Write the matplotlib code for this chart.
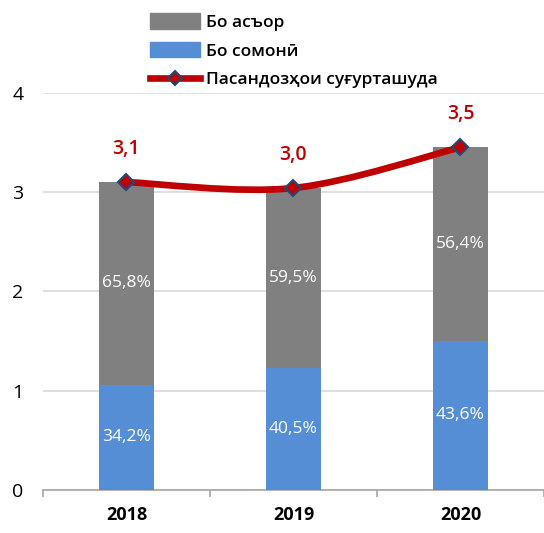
import matplotlib.pyplot as plt
from matplotlib.path import Path
from matplotlib.patches import PathPatch
from matplotlib.lines import Line2D
from matplotlib.patches import Patch

# === DATA ===
years = ['2018', '2019', '2020']
somoni = [1.06, 1.23, 1.50]          # Бо сомонӣ
asor = [2.04, 1.81, 1.95]            # Бо асъор
total = [3.10, 3.04, 3.45]           # Пасандозҳои суғурташуда
somoni_pct = ['34,2%', '40,5%', '43,6%']
asor_pct = ['65,8%', '59,5%', '56,4%']
total_lbl = ['3,1', '3,0', '3,5']

# === STYLE ===
plt.rcParams['font.family'] = ['Open Sans', 'DejaVu Sans']
gray = '#808080'
blue = '#558ED5'
red = '#C00000'
navy = '#1F497D'

fig = plt.figure(figsize=(5.44, 5.33), dpi=100)
ax = fig.add_axes([0.079, 0.081, 0.921, 0.745])

x = list(range(len(years)))
w = 0.33
ax.bar(x, somoni, width=w, color=blue, zorder=2)
ax.bar(x, asor, width=w, bottom=somoni, color=gray, zorder=2)

for i in x:
    ax.text(i, somoni[i] / 2, somoni_pct[i], ha='center', va='center',
            color='white', fontsize=12.5, fontweight='medium', zorder=4)
    ax.text(i, somoni[i] + asor[i] / 2, asor_pct[i], ha='center', va='center',
            color='white', fontsize=12.5, fontweight='medium', zorder=4)

# smoothed line (Catmull-Rom -> cubic bezier through the data points)
pts = list(zip(x, total))
verts = [pts[0]]
codes = [Path.MOVETO]
for k in range(len(pts) - 1):
    p0 = pts[k - 1] if k > 0 else pts[k]
    p1 = pts[k]
    p2 = pts[k + 1]
    p3 = pts[k + 2] if k + 2 < len(pts) else pts[k + 1]
    c1 = (p1[0] + (p2[0] - p0[0]) / 6, p1[1] + (p2[1] - p0[1]) / 6)
    c2 = (p2[0] - (p3[0] - p1[0]) / 6, p2[1] - (p3[1] - p1[1]) / 6)
    verts += [c1, c2, p2]
    codes += [Path.CURVE4] * 3
ax.add_patch(PathPatch(Path(verts, codes), fill=False, edgecolor=red,
                       lw=4.8, capstyle='round', zorder=5))
ax.plot(x, total, ls='none', marker='D', ms=8, mfc=red, mec=navy,
        mew=1.5, zorder=6)

for i in x:
    ax.annotate(total_lbl[i], (i, total[i]), xytext=(0, 24),
                textcoords='offset points', ha='center', va='center',
                color=red, fontsize=14, fontweight='semibold')

ax.set_xlim(-0.5, 2.5)
ax.set_ylim(0, 4)
ax.set_yticks([0, 1, 2, 3, 4])
ax.set_xticks(x)
ax.set_xticks([-0.5, 0.5, 1.5, 2.5], minor=True)
ax.set_xticklabels(years, fontsize=13, fontweight='bold')
ax.tick_params(axis='y', length=0, labelsize=14, pad=14)
ax.tick_params(axis='x', which='major', length=0, pad=12)
ax.tick_params(axis='x', which='minor', length=5, width=1.2, color='#A6A6A6')
ax.yaxis.grid(True, color='#D9D9D9', lw=1.2)
ax.set_axisbelow(True)
for s in ['top', 'right', 'left']:
    ax.spines[s].set_visible(False)
ax.spines['bottom'].set_color('#A6A6A6')
ax.spines['bottom'].set_linewidth(1.2)
ax.spines['bottom'].set_zorder(1)

handles = [Patch(color=gray), Patch(color=blue),
           Line2D([0], [0], color=red, lw=4.8, marker='D', ms=7,
                  mfc=red, mec=navy, mew=1.5)]
labels = ['Бо асъор', 'Бо сомонӣ', 'Пасандозҳои суғурташуда']
fig.legend(handles, labels, loc='upper left', bbox_to_anchor=(0.243, 1.008),
           frameon=False, prop={'size': 12.5, 'weight': 'semibold'},
           handlelength=2.9, handleheight=1.0, labelspacing=0.64,
           handletextpad=0.35, borderaxespad=0.6)

plt.savefig('out.png', dpi=100)
